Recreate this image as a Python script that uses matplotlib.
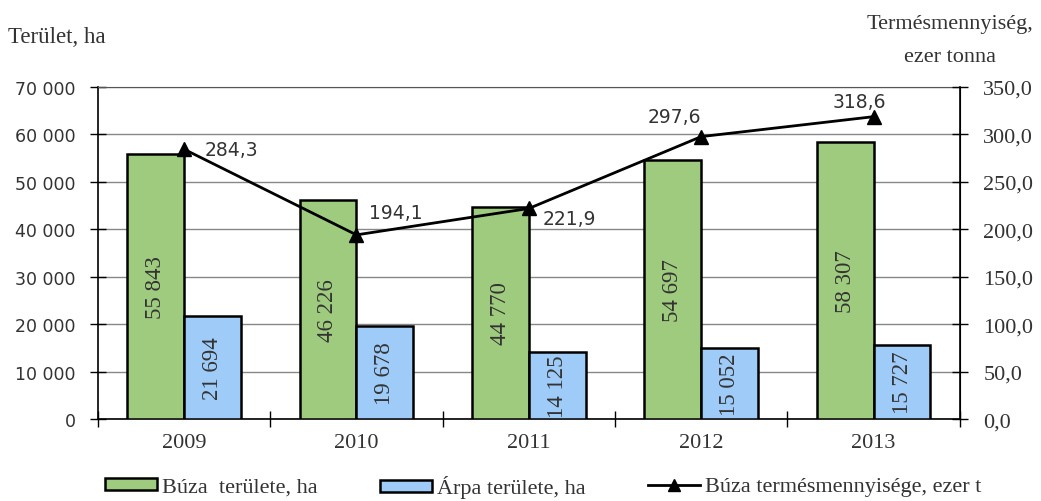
import matplotlib
matplotlib.use("Agg")
import matplotlib.pyplot as plt
import numpy as np
from matplotlib.lines import Line2D
from matplotlib.patches import Patch

years = ["2009", "2010", "2011", "2012", "2013"]
buza_terulet = [55843, 46226, 44770, 54697, 58307]
arpa_terulet = [21694, 19678, 14125, 15052, 15727]
buza_termes = [284.3, 194.1, 221.9, 297.6, 318.6]
buza_labels = ["55 843", "46 226", "44 770", "54 697", "58 307"]
arpa_labels = ["21 694", "19 678", "14 125", "15 052", "15 727"]
termes_labels = ["284,3", "194,1", "221,9", "297,6", "318,6"]
left_ticks = [0, 10000, 20000, 30000, 40000, 50000, 60000, 70000]
left_ticklabels = ["0", "10 000", "20 000", "30 000", "40 000", "50 000", "60 000", "70 000"]
right_ticks = [0, 50, 100, 150, 200, 250, 300, 350]
right_ticklabels = ["0,0", "50,0", "100,0", "150,0", "200,0", "250,0", "300,0", "350,0"]

SERIF = ["Liberation Serif", "DejaVu Serif"]
SANS = ["DejaVu Sans"]
GREEN = "#9FCB7E"
BLUE = "#9ECBF8"
TXT = "#333333"

fig = plt.figure(figsize=(10.41, 5.02), dpi=100)
ax = fig.add_axes([0.094, 0.163, 0.828, 0.662])
ax2 = ax.twinx()

x = np.arange(len(years))
w = 0.33
ax.bar(x - w / 2, buza_terulet, width=w, color=GREEN, edgecolor="black", linewidth=1.8, zorder=3)
ax.bar(x + w / 2, arpa_terulet, width=w, color=BLUE, edgecolor="black", linewidth=1.8, zorder=3)

for i in range(len(years)):
    ax.text(x[i] - w / 2, buza_terulet[i] / 2, buza_labels[i], rotation=90, ha="center", va="center",
            fontsize=16.5, family=SERIF, color=TXT, zorder=4)
    ax.text(x[i] + w / 2, arpa_terulet[i] / 2, arpa_labels[i], rotation=90, ha="center", va="center",
            fontsize=16.5, family=SERIF, color=TXT, zorder=4)

ax.set_xlim(-0.5, len(years) - 0.5)
ax.set_ylim(0, 70000)
ax.set_yticks(left_ticks)
ax.set_yticklabels(left_ticklabels, family=SANS, fontsize=12.5, color=TXT)
ax.yaxis.grid(True, color="#888888", linewidth=1.0, zorder=0)
ax.set_axisbelow(True)
ax.set_xticks(x)
ax.set_xticklabels(years, family=SERIF, fontsize=16, color=TXT)
ax.tick_params(axis="x", length=0, pad=10)
ax.set_xticks(np.arange(len(years) + 1) - 0.5, minor=True)
ax.tick_params(axis="x", which="minor", length=12, direction="inout", width=1)
ax.tick_params(axis="y", length=12, direction="inout", width=1, pad=10)
ax.spines["top"].set_color("#555555")
for s in ["left", "bottom"]:
    ax.spines[s].set_linewidth(1.2)

ax2.plot(x, buza_termes, color="black", linewidth=2, marker="^", markersize=10, zorder=5)
ax2.set_ylim(0, 350)
ax2.set_yticks(right_ticks)
ax2.set_yticklabels(right_ticklabels, family=SERIF, fontsize=16, color=TXT)
ax2.tick_params(axis="y", length=12, direction="inout", width=1, pad=11)
ax2.spines["right"].set_linewidth(1.2)
ax2.spines["top"].set_visible(False)
ax2.spines["left"].set_visible(False)
ax2.spines["bottom"].set_visible(False)

# label offsets (category units, value units), alignment
offsets = [(0.12, 0, "left"), (0.07, 24, "left"), (0.08, -11, "left"), (0.0, 21, "right"), (0.07, 16, "right")]
for i, (dx, dy, ha) in enumerate(offsets):
    ax2.text(x[i] + dx, buza_termes[i] + dy, termes_labels[i], ha=ha, va="center",
             fontsize=13.5, family=SANS, color=TXT, zorder=6)

fig.text(0.008, 0.926, "Terület, ha", family=SERIF, fontsize=16.5, color=TXT, ha="left", va="center")
fig.text(0.913, 0.952, "Termésmennyiség,", family=SERIF, fontsize=16, color=TXT, ha="center", va="center")
fig.text(0.913, 0.886, "ezer tonna", family=SERIF, fontsize=16, color=TXT, ha="center", va="center")

handles = [Patch(facecolor=GREEN, edgecolor="black", linewidth=1.8),
           Patch(facecolor=BLUE, edgecolor="black", linewidth=1.8),
           Line2D([], [], color="black", linewidth=2, marker="^", markersize=9)]
labels = ["Búza  területe, ha", "Árpa területe, ha", "Búza termésmennyisége, ezer t"]
xpos = [105 / 1041, 380 / 1041, 648 / 1041]
for h, l, xp in zip(handles, labels, xpos):
    fig.legend([h], [l], loc="center left", bbox_to_anchor=(xp, 1 - 488 / 502), frameon=False,
               prop={"family": SERIF, "size": 16}, handlelength=2.35, handleheight=0.45,
               handletextpad=0.2, borderpad=0, borderaxespad=0, labelcolor=TXT)

fig.savefig("out.png", dpi=100)
